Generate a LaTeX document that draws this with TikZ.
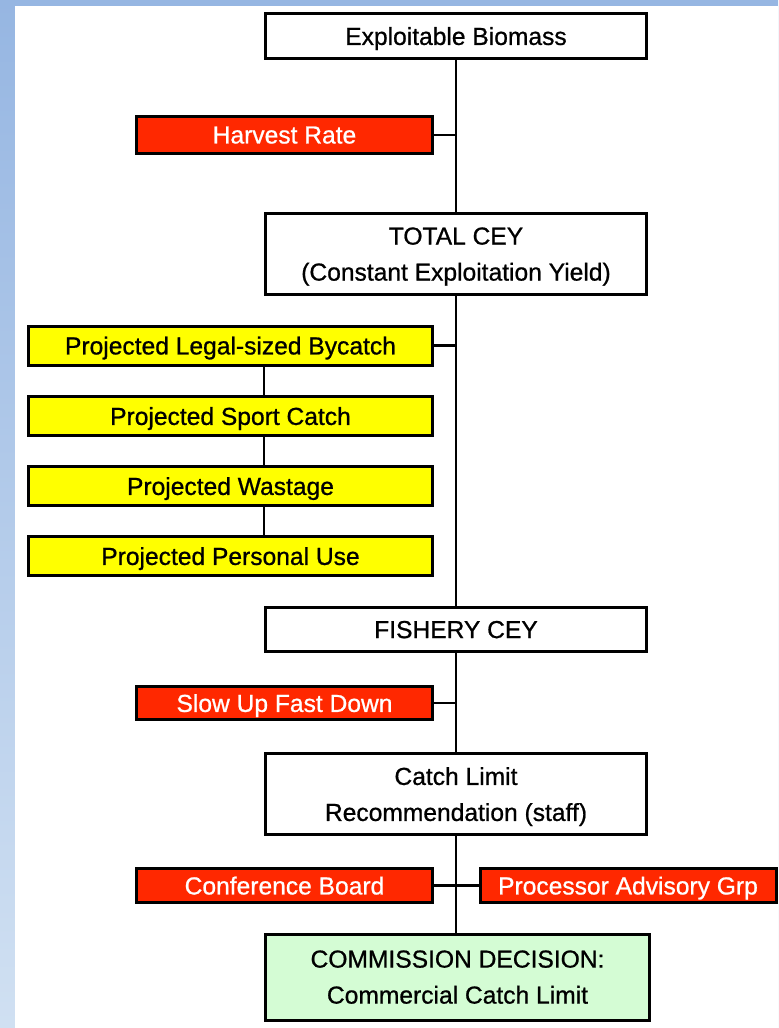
\documentclass[tikz,border=0pt]{standalone}
\usepackage{fontspec}
\setmainfont[FakeBold=0.8]{Liberation Sans}
\definecolor{boxred}{RGB}{255,40,0}
\definecolor{boxyellow}{RGB}{255,255,0}
\definecolor{boxgreen}{RGB}{212,252,212}
\definecolor{bgtop}{RGB}{150,182,226}
\definecolor{bgbot}{RGB}{208,224,242}
\begin{document}
\begin{tikzpicture}[x=0.5pt,y=-0.5pt,
  base/.style={draw, line width=1.5pt, align=center, inner sep=0pt, text depth=0pt,
    font=\fontsize{12.3}{18}\selectfont},
  whitebox/.style={base, fill=white, minimum width=190.5pt},
  redbox/.style={base, fill=boxred, text=white, minimum width=148pt},
  yellowbox/.style={base, fill=boxyellow, minimum width=202pt, minimum height=19.5pt},
  greenbox/.style={base, fill=boxgreen, minimum width=192pt, minimum height=43pt},
  link/.style={line width=1.2pt}]

\useasboundingbox (0,0) rectangle (778,1028);
\shade[top color=bgtop, bottom color=bgbot] (0,0) rectangle (778,1028);
\fill[white] (15,6) rectangle (778,1028);

% main column
\node[whitebox, minimum height=22.5pt] (bio) at (456,36) {Exploitable Biomass};
\node[whitebox, minimum height=40.5pt] (total) at (456,254) {TOTAL CEY\\(Constant Exploitation Yield)};
\node[whitebox, minimum height=22pt] (fishery) at (456,629.5) {FISHERY CEY};
\node[whitebox, minimum height=40.5pt] (rec) at (456,794) {Catch Limit\\Recommendation (staff)};
\node[greenbox] (comm) at (457.5,977) {COMMISSION DECISION:\\Commercial Catch Limit};

% side inputs
\node[redbox, minimum height=18.5pt] (harvest) at (284.5,135) {Harvest Rate};
\node[redbox, minimum height=16.5pt] (slow) at (284.5,703) {Slow Up Fast Down};
\node[redbox, minimum height=17pt] (board) at (284.5,885.5) {Conference Board};
\node[redbox, minimum height=17pt] (proc) at (628,885.5) {Processor Advisory Grp};

% deductions
\node[yellowbox] (bycatch) at (230.5,345.5) {Projected Legal-sized Bycatch};
\node[yellowbox] (sport) at (230.5,416) {Projected Sport Catch};
\node[yellowbox] (waste) at (230.5,486) {Projected Wastage};
\node[yellowbox] (personal) at (230.5,556) {Projected Personal Use};

\draw[link] (bio) -- (total);
\draw[link] (total) -- (fishery);
\draw[link] (fishery) -- (rec);
\draw[link] (rec.south) -- (rec.south |- comm.north);

\draw[link] (harvest) -- (harvest -| bio.south);
\draw[link] (bycatch) -- (bycatch -| total.south);
\draw[link] (slow) -- (slow -| fishery.south);
\draw[link] (board) -- (proc);

\draw[link] (bycatch.south -| 264,0) -- (sport.north -| 264,0);
\draw[link] (sport.south -| 264,0) -- (waste.north -| 264,0);
\draw[link] (waste.south -| 264,0) -- (personal.north -| 264,0);
\end{tikzpicture}
\end{document}
